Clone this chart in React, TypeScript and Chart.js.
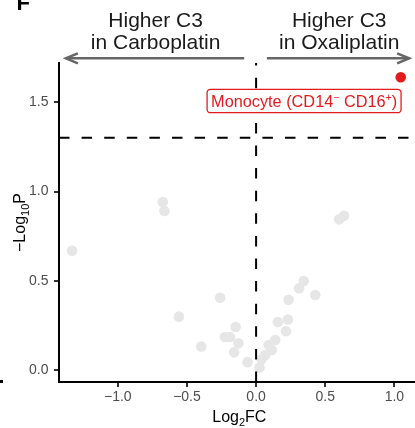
import React, { useEffect, useRef } from "react";
import { Chart, registerables } from "chart.js";

Chart.register(...registerables);

// ---------- data ----------
const grayX = [
  -1.331, -0.675, -0.663, -0.558, -0.26, -0.148, -0.225, -0.189, -0.128, -0.397,
  -0.159, -0.062, 0.025, 0.039, 0.066, 0.091, 0.114, 0.139, 0.157, 0.216,
  0.23, 0.235, 0.311, 0.344, 0.428, 0.601, 0.636,
];
const grayY = [
  0.668, 0.941, 0.891, 0.299, 0.405, 0.241, 0.185, 0.185, 0.15, 0.131,
  0.099, 0.044, 0.014, 0.06, 0.084, 0.14, 0.112, 0.168, 0.269, 0.217,
  0.283, 0.393, 0.458, 0.499, 0.42, 0.844, 0.864,
];
const hitX = [1.046];
const hitY = [1.64];

const xTicks = [-1, -0.5, 0, 0.5, 1];
const xTickLabels = ["\u22121.0", "\u22120.5", "0.0", "0.5", "1.0"];
const yTicks = [0, 0.5, 1, 1.5];
const yTickLabels = ["0.0", "0.5", "1.0", "1.5"];

const pThreshold = 1.301; // -log10(0.05)
const fcThreshold = 0;

const leftNote = ["Higher C3", "in Carboplatin"];
const rightNote = ["Higher C3", "in Oxaliplatin"];

// annotation anchors (data units)
const X_MIN = -1.4255;
const X_MAX = 1.1832;
const Y_MIN = -0.0672;
const Y_MAX = 1.7199;
const arrowY = 1.746;
const noteY = [1.923, 1.798];
const leftArrow = [-0.086, -1.376];
const rightArrow = [0.078, 1.107];
const leftNoteX = -0.727;
const rightNoteX = 0.601;
const labelCenter = [0.347, 1.507];

const FONT = "'Liberation Sans', Arial, Helvetica, sans-serif";
const GRAY = "#e6e6e6";
const RED = "#e41a1c";

type Part = { t: string; size: number; dy: number; weight?: string };

function richWidth(ctx: CanvasRenderingContext2D, parts: Part[]) {
  let w = 0;
  for (const p of parts) {
    ctx.font = `${p.weight || "normal"} ${p.size}px ${FONT}`;
    w += ctx.measureText(p.t).width;
  }
  return w;
}

function drawRich(ctx: CanvasRenderingContext2D, parts: Part[], cx: number, y: number) {
  const w = richWidth(ctx, parts);
  let x = cx - w / 2;
  ctx.textAlign = "left";
  ctx.textBaseline = "alphabetic";
  for (const p of parts) {
    ctx.font = `${p.weight || "normal"} ${p.size}px ${FONT}`;
    ctx.fillText(p.t, x, y + p.dy);
    x += ctx.measureText(p.t).width;
  }
  return w;
}

function arrow(ctx: CanvasRenderingContext2D, x0: number, x1: number, y: number) {
  const dir = Math.sign(x1 - x0);
  ctx.beginPath();
  ctx.moveTo(x0, y);
  ctx.lineTo(x1, y);
  ctx.stroke();
  ctx.beginPath();
  ctx.moveTo(x1 - dir * 12, y - 5);
  ctx.lineTo(x1, y);
  ctx.lineTo(x1 - dir * 12, y + 5);
  ctx.stroke();
}

const overlay = {
  id: "overlay",
  afterDatasetsDraw(chart: any) {
    const { ctx, chartArea: a, scales } = chart;
    const x = scales.x;
    const y = scales.y;
    ctx.save();
    ctx.strokeStyle = "#000";
    ctx.lineWidth = 2;
    ctx.setLineDash([10.5, 12.1]);
    const hy = y.getPixelForValue(pThreshold);
    ctx.beginPath();
    ctx.moveTo(a.left, hy);
    ctx.lineTo(a.right, hy);
    ctx.stroke();
    const vx = x.getPixelForValue(fcThreshold);
    ctx.beginPath();
    ctx.moveTo(vx, a.bottom);
    ctx.lineTo(vx, a.top);
    ctx.stroke();
    ctx.restore();
  },
  afterDraw(chart: any) {
    const { ctx, chartArea: a, scales } = chart;
    const x = scales.x;
    const y = scales.y;
    ctx.save();

    // label box
    const lp: Part[] = [
      { t: "Monocyte (CD14", size: 16.3, dy: 0 },
      { t: "\u2212", size: 10.5, dy: -6 },
      { t: " CD16", size: 16.3, dy: 0 },
      { t: "+", size: 10.5, dy: -6 },
      { t: ")", size: 16.3, dy: 0 },
    ];
    const lw = richWidth(ctx, lp);
    const cx = x.getPixelForValue(labelCenter[0]);
    const cy = y.getPixelForValue(labelCenter[1]);
    const bw = lw + 8;
    const bh = 23.4;
    ctx.beginPath();
    (ctx as any).roundRect(cx - bw / 2, cy - bh / 2, bw, bh, 3.5);
    ctx.fillStyle = "#fff";
    ctx.fill();
    ctx.strokeStyle = RED;
    ctx.lineWidth = 1.3;
    ctx.stroke();
    ctx.fillStyle = RED;
    drawRich(ctx, lp, cx, cy + 5.8);

    // arrows
    ctx.strokeStyle = "#666666";
    ctx.lineWidth = 2.5;
    ctx.lineCap = "butt";
    ctx.lineJoin = "miter";
    const ay = y.getPixelForValue(arrowY);
    arrow(ctx, x.getPixelForValue(leftArrow[0]), x.getPixelForValue(leftArrow[1]), ay);
    arrow(ctx, x.getPixelForValue(rightArrow[0]), x.getPixelForValue(rightArrow[1]), ay);

    // notes
    ctx.fillStyle = "#1a1a1a";
    ctx.font = `21px ${FONT}`;
    ctx.textAlign = "center";
    ctx.textBaseline = "alphabetic";
    for (let i = 0; i < 2; i++) {
      const ty = y.getPixelForValue(noteY[i]);
      ctx.fillText(leftNote[i], x.getPixelForValue(leftNoteX), ty);
      ctx.fillText(rightNote[i], x.getPixelForValue(rightNoteX), ty);
    }

    // axis titles
    ctx.fillStyle = "#000";
    drawRich(
      ctx,
      [
        { t: "Log", size: 16, dy: 0 },
        { t: "2", size: 11, dy: 4 },
        { t: "FC", size: 16, dy: 0 },
      ],
      (a.left + a.right) / 2,
      421.7
    );
    ctx.save();
    ctx.translate(24.5, (a.top + a.bottom) / 2);
    ctx.rotate(-Math.PI / 2);
    drawRich(
      ctx,
      [
        { t: "\u2212Log", size: 16, dy: 0 },
        { t: "10", size: 11, dy: 4 },
        { t: "P", size: 16, dy: 0 },
      ],
      0,
      0
    );
    ctx.restore();

    // panel tag (cut off at top) and edge remnant
    ctx.fillStyle = "#000";
    ctx.font = `bold 22px ${FONT}`;
    ctx.textAlign = "left";
    ctx.fillText("F", 16.5, 9.5);
    ctx.fillRect(0, 380, 3, 3);

    ctx.restore();
  },
};

export default function App() {
  const ref = useRef<HTMLCanvasElement>(null);
  useEffect(() => {
    const tickFont = { family: FONT, size: 14 };
    const chart = new Chart(ref.current as HTMLCanvasElement, {
      type: "scatter",
      data: {
        datasets: [
          {
            data: grayX.map((v, i) => ({ x: v, y: grayY[i] })),
            pointBackgroundColor: GRAY,
            pointBorderWidth: 0,
            pointRadius: 5.3,
            pointHoverRadius: 5.3,
          },
          {
            data: hitX.map((v, i) => ({ x: v, y: hitY[i] })),
            pointBackgroundColor: RED,
            pointBorderWidth: 0,
            pointRadius: 5.3,
            pointHoverRadius: 5.3,
          },
        ],
      },
      options: {
        animation: false,
        responsive: false,
        devicePixelRatio: 1,
        events: [],
        layout: { padding: { top: 63, left: 0, right: 0, bottom: 0 } },
        plugins: {
          legend: { display: false },
          tooltip: { enabled: false },
          title: { display: false },
        },
        scales: {
          x: {
            type: "linear",
            min: X_MIN,
            max: X_MAX,
            afterFit: (s: any) => {
              s.height = 46;
            },
            afterBuildTicks: (s: any) => {
              s.ticks = xTicks.map((v) => ({ value: v }));
            },
            ticks: {
              callback: (_v: any, i: number) => xTickLabels[i],
              color: "#4d4d4d",
              font: tickFont,
              padding: 2,
              maxRotation: 0,
              autoSkip: false,
            },
            grid: {
              display: true,
              drawOnChartArea: false,
              drawTicks: true,
              tickLength: 5,
              color: "#333333",
              lineWidth: 2,
            },
            border: { display: true, color: "#000", width: 2 },
          },
          y: {
            type: "linear",
            min: Y_MIN,
            max: Y_MAX,
            afterFit: (s: any) => {
              s.width = 59;
            },
            afterBuildTicks: (s: any) => {
              s.ticks = yTicks.map((v) => ({ value: v }));
            },
            ticks: {
              callback: (_v: any, i: number) => yTickLabels[i],
              color: "#4d4d4d",
              font: tickFont,
              padding: 5.5,
              autoSkip: false,
            },
            grid: {
              display: true,
              drawOnChartArea: false,
              drawTicks: true,
              tickLength: 5,
              color: "#333333",
              lineWidth: 2,
            },
            border: { display: true, color: "#000", width: 2 },
          },
        },
      },
      plugins: [overlay],
    } as any);
    return () => chart.destroy();
  }, []);
  return (
    <div
      style={{
        position: "absolute",
        left: 0,
        top: 0,
        width: 415,
        height: 428,
        overflow: "hidden",
        background: "#fff",
      }}
    >
      <canvas ref={ref} width={425} height={428} style={{ display: "block", width: 425, height: 428 }} />
    </div>
  );
}
